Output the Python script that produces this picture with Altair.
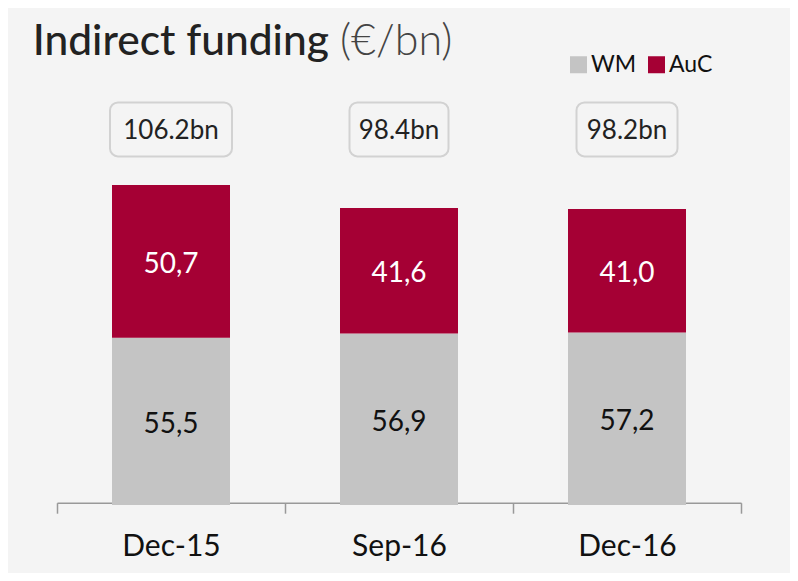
import altair as alt
import pandas as pd

# ---- data ----
categories = ["Dec-15", "Sep-16", "Dec-16"]
wm_values = [55.5, 56.9, 57.2]
auc_values = [50.7, 41.6, 41.0]
total_labels = ["106.2bn", "98.4bn", "98.2bn"]
series_names = ["WM", "AuC"]

# ---- styles ----
colors = ["#c4c4c4", "#a50034"]
box_widths = [122, 99, 101]
BAR_W = 118
FONT = "Lato"

rows = []
for c, w, a in zip(categories, wm_values, auc_values):
    rows.append({"cat": c, "series": "WM", "value": w, "order": 0})
    rows.append({"cat": c, "series": "AuC", "value": a, "order": 1})
df = pd.DataFrame(rows)

xscale = alt.Scale(domain=categories, paddingInner=0, paddingOuter=0)
yscale = alt.Scale(domain=[0, 140])

x_enc = alt.X(
    "cat:N", scale=xscale, sort=categories, title=None,
    axis=alt.Axis(
        labelAngle=0, labelFont=FONT, labelFontSize=30, labelColor="#111",
        labelPadding=18, domainColor="#999", domainWidth=1.5,
        tickColor="#999", tickWidth=1.5, tickSize=10.5, tickBand="extent",
        offset=-2.3, grid=False,
    ),
)

base = alt.Chart(df).transform_stack(
    stack="value", groupby=["cat"], as_=["v0", "v1"],
    sort=[alt.SortField("order", order="ascending")],
).transform_calculate(
    mid="(datum.v0 + datum.v1) / 2",
    lab="replace(format(datum.value, '.1f'), '.', ',')",
)

bars = base.mark_bar(width=BAR_W).encode(
    x=x_enc,
    y=alt.Y("v0:Q", scale=yscale, axis=None),
    y2="v1:Q",
    color=alt.Color(
        "series:N", sort=series_names,
        scale=alt.Scale(domain=series_names, range=colors),
        legend=alt.Legend(
            orient="none", legendX=510, legendY=-30, direction="horizontal",
            title=None, symbolType="square", symbolSize=289,
            symbolStrokeWidth=0, labelFont=FONT, labelFontSize=23,
            labelColor="#111", labelOffset=1, columnPadding=8, padding=0,
        ),
    ),
)

seg_labels = base.mark_text(font=FONT, fontSize=28, baseline="middle", dy=3.5).encode(
    x=alt.X("cat:N", scale=xscale, sort=categories),
    y=alt.Y("mid:Q", scale=yscale),
    text="lab:N",
    color=alt.condition(alt.datum.series == "AuC", alt.value("white"), alt.value("#111")),
)

tot_df = pd.DataFrame({"cat": categories, "label": total_labels})
layers = [bars, seg_labels]
for c, bw in zip(categories, box_widths):
    layers.append(
        alt.Chart(tot_df).transform_filter(alt.datum.cat == c)
        .mark_bar(width=bw, cornerRadius=8, fill="#f4f4f4", stroke="#d2d2d2", strokeWidth=2)
        .encode(
            x=alt.X("cat:N", scale=xscale, sort=categories),
            y=alt.datum(133.55, scale=yscale),
            y2=alt.datum(115.65),
        )
    )
layers.append(
    alt.Chart(tot_df).mark_text(font=FONT, fontSize=26, color="#222", baseline="middle", dy=2).encode(
        x=alt.X("cat:N", scale=xscale, sort=categories),
        y=alt.datum(124.6, scale=yscale),
        text="label:N",
    )
)

title_df = pd.DataFrame({"t": ["Indirect funding"]})
unit_df = pd.DataFrame({"t": ["(€/bn)"]})
layers.append(
    alt.Chart(title_df).mark_text(font=FONT, fontSize=42.5, color="#222", align="left",
                                  baseline="alphabetic", fontWeight=500)
    .encode(text="t:N", x=alt.value(-24.3), y=alt.value(-28))
)
layers.append(
    alt.Chart(unit_df).mark_text(font=FONT, fontSize=43, color="#444", align="left",
                                 baseline="alphabetic", fontWeight=300)
    .encode(text="t:N", x=alt.value(283), y=alt.value(-28))
)

chart = alt.layer(*layers).properties(
    width=684, height=422,
    padding={"left": 49, "top": 75, "right": 49, "bottom": 68},
    autosize=alt.AutoSizeParams(type="none"),
    background="#f4f4f4",
).configure_view(stroke=None)

chart.save("out.html", embed_options={"renderer": "svg", "actions": False})
